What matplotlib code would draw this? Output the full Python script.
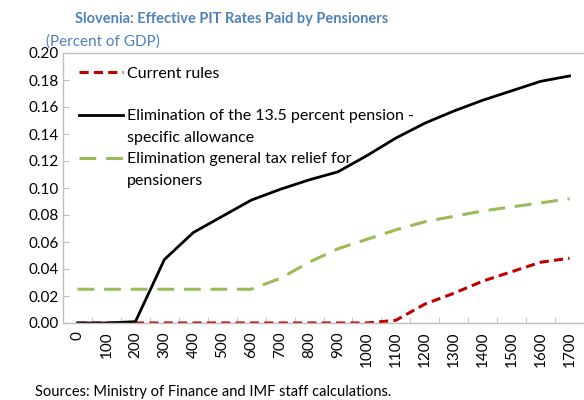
import matplotlib
matplotlib.use('Agg')
from matplotlib import pyplot
from matplotlib.lines import Line2D
import numpy

pyplot.rcParams['font.family'] = ['Lato', 'DejaVu Sans']

categories = [0, 100, 200, 300, 400, 500, 600, 700, 800, 900,
              1000, 1100, 1200, 1300, 1400, 1500, 1600, 1700]
current_rules = [0, 0, 0, 0, 0, 0, 0, 0, 0, 0,
                 0, 0.002, 0.014, 0.022, 0.031, 0.038, 0.045, 0.048]
pension_allowance = [0, 0, 0.001, 0.047, 0.067, 0.079, 0.091, 0.099, 0.106, 0.112,
                     0.124, 0.137, 0.148, 0.157, 0.165, 0.172, 0.179, 0.183]
general_relief = [0.025, 0.025, 0.025, 0.025, 0.025, 0.025, 0.025, 0.033, 0.045, 0.055,
                  0.062, 0.069, 0.075, 0.079, 0.083, 0.086, 0.089, 0.092]
y_ticks = [0.00, 0.02, 0.04, 0.06, 0.08, 0.10, 0.12, 0.14, 0.16, 0.18, 0.20]

blue = '#4f81bd'
fig = pyplot.figure(figsize=(5.84, 4.0), dpi=100)
ax = fig.add_axes([0.108, 0.1925, 0.892, 0.675])

x = numpy.arange(len(categories))
l1, = ax.plot(x, current_rules, color='#c00000', linewidth=2.2, dashes=(3, 1.7))
l2, = ax.plot(x, pension_allowance, color='black', linewidth=2.0)
l3, = ax.plot(x, general_relief, color='#9bbb59', linewidth=2.2, dashes=(5.5, 3.2))

ax.set_xlim(-0.5, len(categories) - 0.5)
ax.set_ylim(0, 0.20)
ax.set_yticks(y_ticks)
ax.set_yticklabels([f'{v:.2f}' for v in y_ticks])
ax.set_xticks(x)
ax.set_xticklabels([str(c) for c in categories], rotation=90)
ax.set_xticks(numpy.arange(-0.5, len(categories), 1.0), minor=True)

ax.tick_params(axis='x', which='major', length=0, labelsize=11, pad=6)
ax.tick_params(axis='x', which='minor', direction='in', length=4, color='#bfbfbf')
ax.tick_params(axis='y', direction='in', length=4, color='#bfbfbf', labelsize=11, pad=3)

for side in ['left', 'top', 'bottom']:
    ax.spines[side].set_color('#bfbfbf')
    ax.spines[side].set_linewidth(1.0)
ax.spines['right'].set_visible(False)

# legend rows: handle only on the first line of each entry
blank = Line2D([], [], linestyle='none')
handles = [l1, blank, l2, blank, l3, blank]
labels = ['Current rules', ' ',
          'Elimination of the 13.5 percent pension -', 'specific allowance',
          'Elimination general tax relief for', 'pensioners']
ax.legend(handles, labels, loc='upper left', frameon=False, fontsize=11.5,
          handlelength=2.8, handletextpad=0.2, labelspacing=0.45,
          borderaxespad=0.0, borderpad=0.0, bbox_to_anchor=(0.03, 0.95))

fig.text(0.128, 0.953, 'Slovenia: Effective PIT Rates Paid by Pensioners',
         color=blue, fontsize=10.5, fontweight='bold', va='center')
fig.text(0.079, 0.897, '(Percent of GDP)', color=blue, fontsize=11, va='center')
fig.text(0.06, 0.02, 'Sources: Ministry of Finance and IMF staff calculations.',
         fontsize=10.5, va='center')

fig.savefig('out.png', dpi=100)
